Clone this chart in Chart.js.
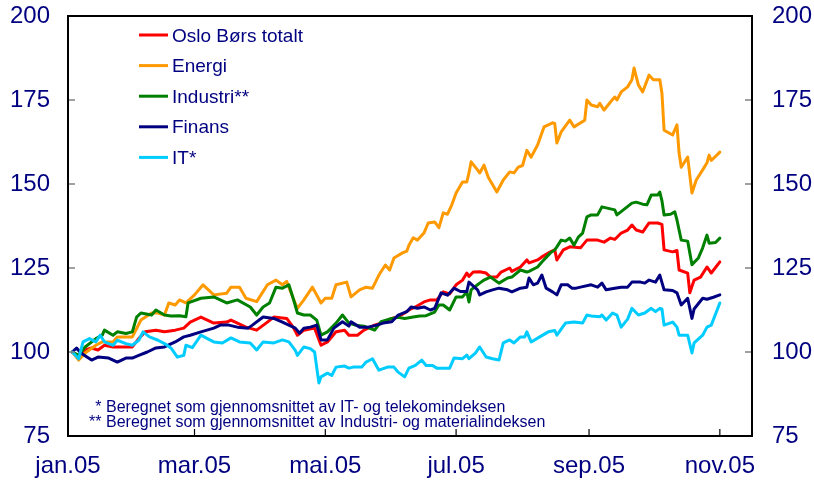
<!DOCTYPE html>
<html><head><meta charset="utf-8">
<script src="https://cdn.jsdelivr.net/npm/chart.js@4/dist/chart.umd.min.js"></script>
<style>html,body{margin:0;padding:0;background:#fff}#wrap{width:814px;height:488px;position:relative}</style>
</head><body><div id="wrap"><canvas id="c" width="814" height="488"></canvas></div>
<script>
const seriesNames = ['Oslo Børs totalt','Energi','Industri**','Finans','IT*'];
const seriesColors = ['#ff0000','#ff9900','#008000','#000080','#00ccff'];
const tickDays = [0,59,120,181,243,304];
const tickLabels = ['jan.05','mar.05','mai.05','jul.05','sep.05','nov.05'];
const yTicks = [75,100,125,150,175,200];
const footnotePrefixes = ['* ','** '];
const footnoteTexts = ['Beregnet som gjennomsnittet av IT- og telekomindeksen','Beregnet som gjennomsnittet av Industri- og materialindeksen'];

// day-of-year 2005 (0 = 1 Jan)
const osloDays = [2,5,8,11,14,17,21,23,30,33,36,41,45,50,54,57,62,68,74,76,83,88,93,96,102,105,107,110,115,118,121,125,129,131,135,138,143,146,151,154,157,159,162,166,169,172,175,178,181,184,186,187,189,192,195,197,200,202,206,207,211,214,215,219,221,225,227,228,231,234,239,242,247,250,253,255,258,261,263,265,268,271,275,277,278,282,284,285,289,290,292,295,298,300,304];
const osloValues = [100,98.5,100.6,101.2,100.6,102,101.5,101.5,101.5,104,106,106.5,106,106.5,107.1,108.9,110.4,108.6,108.9,109.5,107.4,106.5,108.9,110.4,110,107.4,105,106.5,107.1,102,103,106,106.5,105,105,106.5,108,108.6,110,110.5,111.6,112.5,113.4,114.9,115.5,115.5,117.9,117.3,120,121.4,123.5,122.5,123.8,123.9,123.5,122.3,122.3,123.8,125,124,125.3,127.4,126.5,127.4,128.3,129.8,130.4,127.4,130.4,131.3,131,133.3,133.3,132.7,133.9,133.5,135.4,136.3,137.8,136.3,135.7,138.4,138.4,138,130.4,129.8,130.2,124.4,123.5,117.6,121.4,122.3,125.3,123.5,126.8];

const energiDays = [2,5,8,13,16,21,23,30,32,34,39,42,45,47,50,52,55,59,63,68,74,76,80,83,88,93,97,100,102,105,107,110,114,118,120,123,125,130,132,136,139,142,145,148,150,152,156,158,159,161,163,166,168,171,173,175,177,179,181,184,186,187,188,191,192,194,196,200,203,206,208,210,212,214,216,219,222,226,227,228,230,234,236,241,242,244,247,248,250,253,255,256,258,261,263,264,266,268,271,273,276,277,278,282,284,285,286,289,291,293,296,298,299,300,304];
const energiValues = [100,97.6,99.7,102,103,103,104.5,104.5,107,109.5,111.6,111.6,111,114.6,114,115.5,114.6,117,120,117,117.5,119.3,119.3,116,115,120,121.4,120,121,116,113,115.5,119.3,114.6,116,116,120,120.8,116.4,118.5,119.3,119,122.9,125.9,124.4,128,129.5,130,131.8,134,133.3,135.4,138.4,138.7,137,141.4,141,143.8,147.3,150.6,150.6,153.3,156.6,154.2,153.3,155.6,152,147.6,151.2,153.6,153.3,155,155.5,160,158,161.6,167,168.2,168,162.2,165.5,169,167,169,175,173.5,173,174,172,174.4,175.9,175,177.4,178.9,181,184.5,179.5,177.4,182.4,181,181,177,166,164.6,167.6,159.2,155,158,147.3,151.2,154.2,156.3,158.6,157,159.5];

const industriDays = [2,5,8,13,16,17,21,23,27,30,32,34,39,41,45,48,52,55,56,62,68,74,79,85,88,91,94,97,100,103,105,107,110,113,116,118,121,125,128,131,134,138,143,146,151,154,157,161,164,167,171,173,175,178,181,184,186,187,188,191,192,194,197,201,205,207,211,214,215,219,221,225,227,228,230,232,234,236,238,240,242,244,247,249,251,255,256,259,263,265,268,270,272,275,276,277,278,281,283,284,286,289,291,294,296,298,299,302,304];
const industriValues = [100,99,101.5,104,105,106.5,105,106,105.5,106,110.4,111.6,111,112.5,111,110.7,110.8,110.5,114.6,116,116.4,114.6,115.5,113.4,111,113.4,114.6,119.3,119,120,116,111.6,111,111,109.5,105,106,108.6,111,108.6,108,107.7,106.5,109,110,110.3,110,110.4,110.7,110.8,111.9,114,114,112.5,116.4,116.4,117.9,114.9,118.5,120,120.5,121.4,122.3,120.5,122,122.3,124.4,123.8,124,125.3,126.8,129.5,130.4,131.3,133.3,133,133.9,131.8,134.2,135.4,140.2,140.8,140.8,143.2,142.9,142.3,140.8,142.3,144.3,144.6,144,143.8,146.7,146.7,147.6,145,140.8,141,141.7,139.3,133.3,133,126,128,131,134.8,132.4,132.6,133.9];

const finansDays = [2,4,6,11,14,19,23,27,30,33,37,41,45,50,54,57,62,68,71,75,79,84,86,91,96,100,106,108,110,113,116,118,121,124,128,131,132,136,140,144,147,151,154,158,160,163,166,169,171,174,177,180,183,186,187,191,192,195,198,201,205,207,211,214,215,217,219,221,223,226,228,230,233,235,237,239,244,247,249,251,255,258,261,263,267,269,271,274,276,278,282,284,286,289,291,292,296,298,301,304];
const finansValues = [100,101.2,99.7,97.6,98.5,98.2,97,98.2,98.2,99,100,101.2,101.5,103,104.5,105,106,107.1,108,108,107.4,107.1,108,110.4,110,108.9,107.1,105.6,107.1,107.4,108,103.6,103.6,107.1,109,107.7,109,107.4,107.4,108,108.6,109,111,112,113.4,113,113.4,112.5,113,117.6,116.9,119,118,118,120.8,118.5,117,117.9,118.5,119,118.5,117.9,119,119.3,122,120,120.5,122.9,119,117.9,117,120,120,119,119,119.3,120,119.3,120.5,118.5,119,119.3,119.3,120.8,120.8,120.5,121.4,120.8,122.9,118.5,118.3,117.6,114,116,110,112.8,116,115.7,116.3,117];

const itDays = [2,5,7,10,13,15,17,21,23,27,30,33,35,38,42,45,48,51,54,55,58,62,65,68,72,76,80,85,88,91,96,100,103,106,107,110,113,115,117,118,121,123,125,129,131,133,137,139,142,145,149,152,154,157,159,162,165,167,170,172,175,178,180,184,186,187,190,192,195,198,201,203,206,208,211,213,214,216,220,224,227,228,232,236,240,242,244,248,249,251,254,256,258,261,263,266,269,272,274,276,277,278,282,284,285,289,291,292,296,298,300,304];
const itValues = [100,98,103,104,103,105,103,102,103.5,102.5,102,103.5,106,104.5,103.5,102.5,101.2,98.5,99,102,101.3,105,104,103,102.7,104.2,103,102.7,100.6,103,102.7,103.6,103,100.5,99,101.5,101,100,90.8,92.6,93.7,93,95.5,95.8,95.2,95.5,95.5,97,98,94.6,95.5,95.5,94,92.6,95.2,96,97.6,96,96,95.2,95.2,95.2,98.2,98,99.1,98,99.7,101.5,98.5,98,97.6,102.7,103.6,102.7,104.5,104.5,106,103,104.5,106,106.4,105,108.6,108.9,108.6,111,110.7,110.5,111,109.5,111.6,111,107.4,109.8,113,111,111.6,113,112,113,112.8,108,108.9,107.4,105,105,99.7,102.7,105,107.4,108,114.6];

const allDays = [osloDays, energiDays, industriDays, finansDays, itDays];
const allValues = [osloValues, energiValues, industriValues, finansValues, itValues];

const TEXT = '#000080';
const FONT = "'Liberation Sans', Arial, sans-serif";

const datasets = seriesNames.map((name, i) => ({
  label: name,
  data: allDays[i].map((d, k) => ({x: d, y: allValues[i][k]})),
  borderColor: seriesColors[i],
  backgroundColor: seriesColors[i],
  borderWidth: 3,
  pointRadius: 0,
  tension: 0,
  fill: false,
  borderJoinStyle: 'round',
  borderCapStyle: 'round',
  order: seriesNames.length - i,
  xAxisID: 'x',
  yAxisID: 'y'
}));

const framePlugin = {
  id: 'frame',
  afterDatasetsDraw(chart) {
    const {ctx, chartArea: a, scales} = chart;
    ctx.save();
    const seg = (x1, y1, x2, y2) => { ctx.beginPath(); ctx.moveTo(x1, y1); ctx.lineTo(x2, y2); ctx.stroke(); };
    // inward tick marks
    ctx.strokeStyle = '#808080'; ctx.lineWidth = 1.5;
    yTicks.forEach(v => {
      const y = scales.y.getPixelForValue(v);
      seg(a.left, y, a.left + 7, y);
      seg(a.right - 7, y, a.right, y);
    });
    ctx.strokeStyle = '#000000'; ctx.lineWidth = 1.2;
    tickDays.forEach(d => {
      const x = scales.x.getPixelForValue(d);
      seg(x, a.bottom, x, a.bottom - 7);
    });
    // frame
    ctx.lineWidth = 2; ctx.strokeStyle = '#000000';
    ctx.strokeRect(a.left, a.top, a.right - a.left, a.bottom - a.top);
    // legend
    ctx.font = '19px ' + FONT;
    ctx.textBaseline = 'alphabetic'; ctx.textAlign = 'left';
    chart.data.datasets.forEach((ds, i) => {
      const base = a.top + 25.5 + i * 30.6;
      ctx.strokeStyle = ds.borderColor; ctx.lineWidth = 3; ctx.lineCap = 'butt';
      seg(a.left + 71, base - 6.5, a.left + 100, base - 6.5);
      ctx.fillStyle = TEXT;
      ctx.fillText(ds.label, a.left + 104, base);
    });
    // footnotes
    ctx.font = '16px ' + FONT;
    ctx.fillStyle = TEXT;
    footnoteTexts.forEach((t, i) => {
      const base = a.bottom - 24 + i * 15;
      const startX = a.left + 38;
      ctx.textAlign = 'right';
      ctx.fillText(footnotePrefixes[i], startX, base);
      ctx.textAlign = 'left';
      ctx.fillText(t, startX, base);
    });
    ctx.restore();
  }
};

const tickFont = {family: FONT, size: 24};
const noPad = s => { s.paddingTop = 0; s.paddingBottom = 0; };

new Chart(document.getElementById('c').getContext('2d'), {
  type: 'line',
  data: {datasets},
  options: {
    responsive: false,
    animation: false,
    devicePixelRatio: 1,
    layout: {padding: {top: 16, left: 0, right: 0, bottom: 0}},
    plugins: {legend: {display: false}, tooltip: {enabled: false}},
    scales: {
      x: {
        type: 'linear', min: 0, max: 319,
        grid: {display: false, drawTicks: false, tickLength: 0},
        border: {display: false},
        afterBuildTicks: s => { s.ticks = tickDays.map(v => ({value: v})); },
        ticks: {autoSkip: false, maxRotation: 0, minRotation: 0, padding: 16, color: TEXT, font: tickFont,
          callback: (v, i) => tickLabels[i]},
        afterFit: s => { s.height = 52; s.paddingLeft = 0; s.paddingRight = 0; }
      },
      y: {
        position: 'left', min: 75, max: 200,
        grid: {display: false, drawTicks: false, tickLength: 0},
        border: {display: false},
        afterBuildTicks: s => { s.ticks = yTicks.map(v => ({value: v})); },
        ticks: {padding: 18, color: TEXT, font: tickFont, callback: v => String(v)},
        afterFit: s => { s.width = 68; noPad(s); }
      },
      y2: {
        position: 'right', min: 75, max: 200,
        grid: {display: false, drawTicks: false, tickLength: 0},
        border: {display: false},
        afterBuildTicks: s => { s.ticks = yTicks.map(v => ({value: v})); },
        ticks: {padding: 20, color: TEXT, font: tickFont, callback: v => String(v)},
        afterFit: s => { s.width = 62; noPad(s); }
      }
    }
  },
  plugins: [framePlugin]
});
</script>
</body></html>
